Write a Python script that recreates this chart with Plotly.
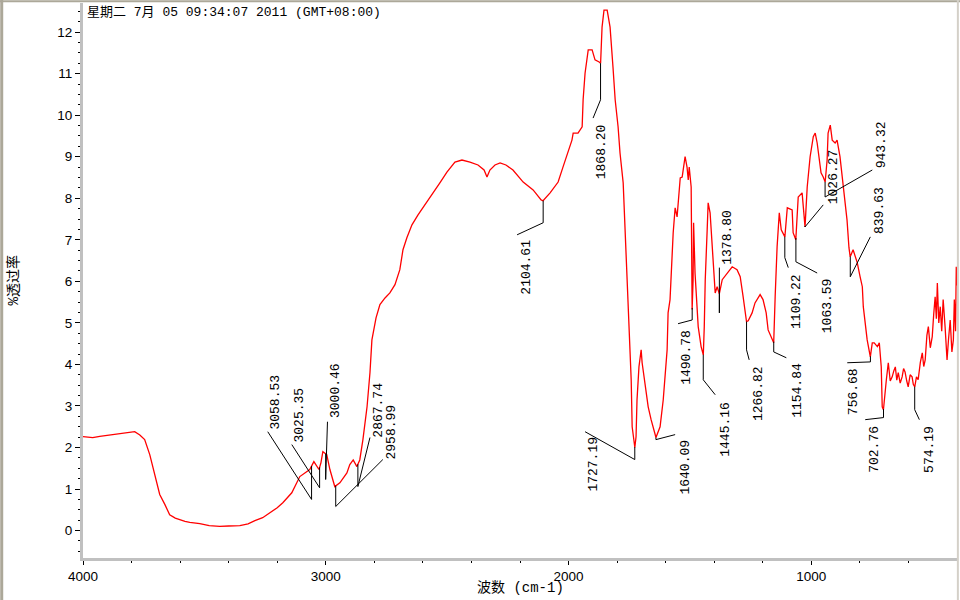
import numpy as np
import plotly.graph_objects as go

# spectrum: wavenumber (cm-1) and %T
wavenumber = [
    4000, 3960, 3931, 3890, 3849, 3808, 3787, 3766, 3746, 3725, 3704, 3684, 3663,
    3643, 3620, 3601, 3580, 3560, 3519, 3480, 3437, 3400, 3354, 3320, 3292, 3260,
    3231, 3200, 3177, 3140, 3107, 3086, 3066, 3049, 3037, 3028, 3020, 3012, 2996,
    2983, 2963, 2942, 2913, 2901, 2887, 2872, 2860, 2847, 2830, 2818, 2810, 2793,
    2777, 2756, 2736, 2715, 2695, 2682, 2666, 2645, 2620, 2592, 2563, 2530, 2501,
    2468, 2439, 2406, 2373, 2348, 2336, 2324, 2303, 2282, 2258, 2229, 2187, 2146,
    2113, 2105, 2076, 2043, 2023, 2002, 1986, 1981, 1961, 1944, 1940, 1932, 1919,
    1903, 1891, 1874, 1868, 1862, 1854, 1841, 1829, 1817, 1808, 1796, 1788, 1775,
    1767, 1759, 1755, 1750, 1742, 1738, 1730, 1727, 1722, 1718, 1710, 1701, 1697,
    1689, 1680, 1672, 1660, 1652, 1640, 1623, 1610, 1594, 1590, 1582, 1574, 1569,
    1561, 1553, 1540, 1532, 1520, 1512, 1507, 1503, 1495, 1491, 1487, 1485, 1479,
    1466, 1454, 1445, 1441, 1437, 1429, 1425, 1417, 1408, 1404, 1396, 1388, 1379,
    1367, 1347, 1326, 1306, 1293, 1281, 1267, 1260, 1244, 1232, 1211, 1199, 1186,
    1178, 1155, 1149, 1141, 1132, 1124, 1109, 1099, 1079, 1075, 1064, 1054, 1038,
    1026, 1017, 1005, 992, 984, 976, 968, 960, 951, 943, 935, 931, 922, 914, 902,
    894, 882, 869, 861, 853, 845, 840, 828, 811, 799, 790, 786, 778, 770, 757, 749,
    741, 728, 720, 712, 708, 703, 691, 683, 675, 667, 660, 654, 648, 642, 634, 626,
    620, 614, 607, 601, 593, 585, 580, 574, 567, 560, 551, 543, 537, 531, 524, 518,
    510, 502, 496, 490, 485, 481, 475, 469, 463, 457, 449, 441, 435, 428, 421, 415,
    411, 406, 403, 400,
]
transmittance = [
    2.26, 2.24, 2.27, 2.30, 2.33, 2.36, 2.38, 2.30, 2.19, 1.83, 1.35, 0.87, 0.63,
    0.38, 0.30, 0.26, 0.22, 0.20, 0.17, 0.12, 0.10, 0.11, 0.12, 0.16, 0.24, 0.31,
    0.43, 0.55, 0.67, 0.91, 1.30, 1.39, 1.47, 1.66, 1.54, 1.47, 1.63, 1.90, 1.83,
    1.47, 1.06, 1.15, 1.39, 1.59, 1.70, 1.54, 1.70, 2.19, 2.98, 3.80, 4.59, 5.12,
    5.44, 5.60, 5.72, 5.92, 6.28, 6.76, 7.05, 7.36, 7.60, 7.84, 8.06, 8.37, 8.63,
    8.87, 8.92, 8.87, 8.80, 8.68, 8.51, 8.68, 8.80, 8.85, 8.80, 8.68, 8.39, 8.20,
    7.96, 7.94, 8.13, 8.39, 8.75, 9.09, 9.40, 9.57, 9.57, 9.72, 10.37, 11.01, 11.57,
    11.57, 11.33, 11.28, 11.25, 12.12, 12.53, 12.53, 12.12, 11.16, 10.37, 9.72, 9.09, 8.37,
    7.31, 6.20, 5.56, 4.83, 3.63, 2.50, 2.19, 2.00, 2.26, 3.15, 3.94, 4.35, 4.04,
    3.70, 3.22, 2.98, 2.67, 2.50, 2.24, 2.50, 3.15, 4.35, 5.24, 5.56, 6.76, 7.17,
    7.77, 7.55, 8.49, 8.51, 9.00, 8.75, 8.44, 8.75, 8.27, 5.32, 6.04, 7.41, 6.20,
    4.91, 4.43, 4.23, 4.91, 6.04, 7.24, 7.89, 7.65, 6.83, 6.20, 5.72, 5.87, 5.70,
    6.04, 6.20, 6.35, 6.28, 6.11, 5.63, 5.03, 5.05, 5.24, 5.48, 5.68, 5.56, 5.24,
    4.83, 4.52, 5.63, 6.83, 7.65, 7.24, 7.07, 7.77, 7.72, 7.17, 7.00, 8.03, 8.13,
    7.31, 8.27, 9.00, 9.48, 9.57, 9.33, 8.92, 8.61, 8.51, 8.39, 8.92, 9.57, 9.76, 9.40, 9.33,
    9.40, 9.00, 8.27, 7.96, 7.48, 6.81, 6.59, 6.76, 6.45, 6.11, 5.87, 5.39, 5.00, 4.59, 4.18, 4.52,
    4.52, 4.43, 4.52, 3.94, 2.98, 2.91, 3.63, 4.04, 3.60, 3.70, 3.85, 3.94, 3.62, 3.80, 3.55, 3.70,
    3.90, 3.82, 3.60, 3.46, 3.75, 3.70, 3.52, 3.46, 3.70, 3.63, 4.05, 4.28, 3.95, 4.11, 4.70, 4.91,
    4.40, 4.67, 5.20, 5.63, 5.10, 5.96, 5.00, 5.39, 4.80, 5.56, 4.90, 4.11, 4.60, 5.07, 4.30, 4.59,
    5.56, 4.80, 6.35, 5.90,
]

# peak picks
peak_labels = ["3058.53", "3025.35", "3000.46", "2958.99", "2867.74", "2104.61",
               "1868.20", "1727.19", "1640.09", "1490.78", "1445.16", "1378.80",
               "1266.82", "1154.84", "1109.22", "1063.59", "1026.27", "943.32",
               "839.63", "756.68", "702.76", "574.19"]
peak_wn = [float(s) for s in peak_labels]

# label placement: (knee %T, leader end wn, leader end %T, text wn, text %T)
label_layout = [
    (0.75, 3239, 2.38, 3206, 3.10),
    (1.03, 3140, 2.07, 3107, 2.79),
    (1.23, 2993, 2.62, 2962, 3.36),
    (0.58, 2765, 1.71, 2728, 2.38),
    (1.06, 2818, 2.24, 2781, 2.91),
    (7.41, 2212, 7.12, 2171, 6.33),
    (10.37, 1899, 9.93, 1866, 9.11),
    (1.71, 1932, 2.38, 1899, 1.59),
    (2.19, 1561, 2.31, 1520, 1.52),
    (5.07, 1549, 4.98, 1512, 4.16),
    (3.63, 1396, 3.27, 1351, 2.43),
    (5.24, 1378.8, 6.33, 1343, 7.05),
    (4.35, 1256, 4.11, 1215, 3.29),
    (4.30, 1103, 4.16, 1058, 3.37),
    (6.57, 1095, 6.33, 1062, 5.51),
    (6.47, 976, 6.20, 934, 5.41),
    (7.31, 951, 7.84, 910, 8.51),
    (8.03, 749, 8.68, 712, 9.28),
    (6.11, 757, 7.07, 720, 7.70),
    (4.06, 852, 4.04, 823, 3.34),
    (2.72, 778, 2.67, 741, 1.95),
    (2.91, 555, 2.67, 514, 1.95),
]

wn_arr = np.array(wavenumber, dtype=float)
t_arr = np.array(transmittance, dtype=float)
peak_t = np.interp(peak_wn, wn_arr[::-1], t_arr[::-1])

fig = go.Figure()

fig.add_trace(go.Scatter(
    x=wavenumber, y=transmittance, mode="lines",
    line=dict(color="#ff0000", width=1.3),
    hoverinfo="skip", showlegend=False,
))

lx, ly = [], []
for wn, t, (knee, ex, ey, tx, ty) in zip(peak_wn, peak_t, label_layout):
    lx += [wn, wn, ex, None]
    ly += [t, knee, ey, None]
fig.add_trace(go.Scatter(
    x=lx, y=ly, mode="lines", line=dict(color="black", width=1),
    hoverinfo="skip", showlegend=False,
))

mono = "Liberation Mono, Noto Sans CJK SC, monospace"
for text, (knee, ex, ey, tx, ty) in zip(peak_labels, label_layout):
    fig.add_annotation(x=tx, y=ty, text=text, textangle=-90, showarrow=False,
                       font=dict(family=mono, size=13, color="black"))

fig.add_annotation(xref="paper", yref="paper", x=0, y=1, xanchor="left", yanchor="top",
                   xshift=2, yshift=0, showarrow=False,
                   text="星期二 7月 05 09:34:07 2011 (GMT+08:00)",
                   font=dict(family=mono, size=13, color="black"))

# axis titles
fig.add_annotation(xref="paper", yref="paper", x=0.5, y=0, yanchor="middle",
                   yshift=-30, showarrow=False, text="波数 (cm-1)",
                   font=dict(family=mono, size=14, color="black"))
fig.add_annotation(xref="paper", yref="paper", x=0, y=0.5, xanchor="center",
                   xshift=-70, showarrow=False, text="%透过率", textangle=-90,
                   font=dict(family=mono, size=14, color="black"))

tick_font = dict(family="Liberation Sans, Arial, sans-serif", size=13.5, color="black")

fig.update_layout(
    width=960, height=600,
    margin=dict(l=83, r=3, t=3, b=42),
    paper_bgcolor="white", plot_bgcolor="white",
    showlegend=False,
    xaxis=dict(
        range=[4000, 400], tickvals=[4000, 3000, 2000, 1000],
        ticks="outside", ticklen=4, tickcolor="black", tickwidth=1,
        minor=dict(dtick=200, tick0=0, ticks="outside", ticklen=2, tickcolor="black"),
        showgrid=False, zeroline=False, automargin=False,
        showline=True, linecolor="#c0c0c0", linewidth=3,
        tickfont=tick_font,
    ),
    yaxis=dict(
        range=[-0.66, 12.70], tickvals=list(range(0, 13)),
        ticks="outside", ticklen=5, tickcolor="black", tickwidth=1,
        minor=dict(dtick=0.25, tick0=0, ticks="outside", ticklen=2, tickcolor="black"),
        showgrid=False, zeroline=False, automargin=False,
        showline=True, linecolor="#c0c0c0", linewidth=3,
        tickfont=tick_font,
    ),
)

# window frame
fig.add_shape(type="line", xref="paper", yref="paper", x0=-0.1, x1=1.1, y0=1.003, y1=1.003,
              line=dict(color="#aca899", width=2))
fig.add_shape(type="line", xref="paper", yref="paper", x0=-0.093, x1=-0.093, y0=-0.1, y1=1.1,
              line=dict(color="#aca899", width=3))
fig.add_shape(type="line", xref="paper", yref="paper", x0=1.001, x1=1.001, y0=-0.1, y1=1.1,
              line=dict(color="#d4d0c8", width=2))

# drop the browser's default 8px page margin so the figure sits at the window origin
fig.write_html("out.html", config={"displayModeBar": False},
               post_script="document.body.style.margin='0';")
